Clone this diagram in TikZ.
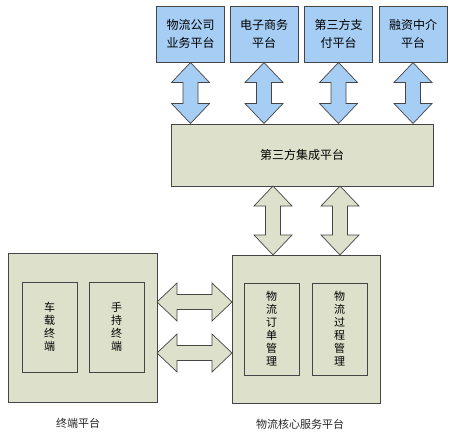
\documentclass[tikz,border=0pt]{standalone}
\usepackage{fontspec}
\newfontfamily\cjk{Noto Sans CJK SC}
\definecolor{kasten}{HTML}{DDE0CA}
\definecolor{himmel}{HTML}{A6CDF4}
\definecolor{rand}{HTML}{454545}

\begin{document}
\begin{tikzpicture}[x=1pt, y=-1pt,
    kasten/.style={draw=rand, fill=kasten, line width=0.9pt, inner sep=0pt},
    blau/.style={kasten, fill=himmel, minimum width=68pt, minimum height=56pt, align=center, font=\cjk\fontsize{12}{18}\selectfont},
    senkrecht/.style={kasten, minimum width=55pt, align=center, font=\cjk\fontsize{11}{13}\selectfont},
    titel/.style={font=\cjk\fontsize{11}{13}\selectfont, text=black!85},
    pics/doppelpfeil/.style={code={
      \draw[line width=0.7pt, draw=rand, fill=#1] ({-\pfeillaenge/2},0) -- ({-\pfeillaenge/2+20},19) -- ({-\pfeillaenge/2+20},7.5)
        -- ({\pfeillaenge/2-20},7.5) -- ({\pfeillaenge/2-20},19) -- ({\pfeillaenge/2},0)
        -- ({\pfeillaenge/2-20},-19) -- ({\pfeillaenge/2-20},-7.5) -- ({-\pfeillaenge/2+20},-7.5)
        -- ({-\pfeillaenge/2+20},-19) -- cycle;
    }},
]
\useasboundingbox (0,0) rectangle (452,439);

% Plattformen oben
\node [blau] (logistik) at (190.5,34) {物流公司\\业务平台};
\node [blau] (handel) at (264,34) {电子商务\\平台};
\node [blau] (zahlung) at (338.5,34) {第三方支\\付平台};
\node [blau] (finanz) at (413,34) {融资中介\\平台};

\node [kasten, minimum width=262pt, minimum height=62pt, font=\cjk\fontsize{12}{14}\selectfont] (integration) at (302,155) {第三方集成平台};

% unten links und rechts
\node [kasten, minimum width=149pt, minimum height=149pt] (terminal) at (82.5,327.5) {};
\node [senkrecht, minimum height=90pt] (fahrzeug) at (49.5,327) {车\\载\\终\\端};
\node [senkrecht, minimum height=90pt] (hand) at (116.5,327) {手\\持\\终\\端};

\node [kasten, minimum width=148pt, minimum height=148pt] (kern) at (306,329) {};
\node [senkrecht, minimum height=92pt] (auftrag) at (271.5,329) {物\\流\\订\\单\\管\\理};
\node [senkrecht, minimum height=92pt] (prozess) at (339.5,329) {物\\流\\过\\程\\管\\理};

\node [titel] (terminaltitel) at (78,423) {终端平台};
\node [titel] (kerntitel) at (300,424) {物流核心服务平台};

% Doppelpfeile
\def\pfeillaenge{61}
\foreach \p in {logistik,handel,zahlung,finanz}
  \path (\p.south) -- (\p.south |- integration.north) pic[midway, sloped] {doppelpfeil=himmel};

\def\pfeillaenge{69}
\path (273,0 |- integration.south) -- (273,0 |- kern.north) pic[midway, sloped] {doppelpfeil=kasten};
\path (340,0 |- integration.south) -- (340,0 |- kern.north) pic[midway, sloped] {doppelpfeil=kasten};

\def\pfeillaenge{75}
\path (terminal.east |- 0,302) -- (kern.west |- 0,302) pic[midway, sloped] {doppelpfeil=kasten};
\path (terminal.east |- 0,353) -- (kern.west |- 0,353) pic[midway, sloped] {doppelpfeil=kasten};

\end{tikzpicture}
\end{document}
